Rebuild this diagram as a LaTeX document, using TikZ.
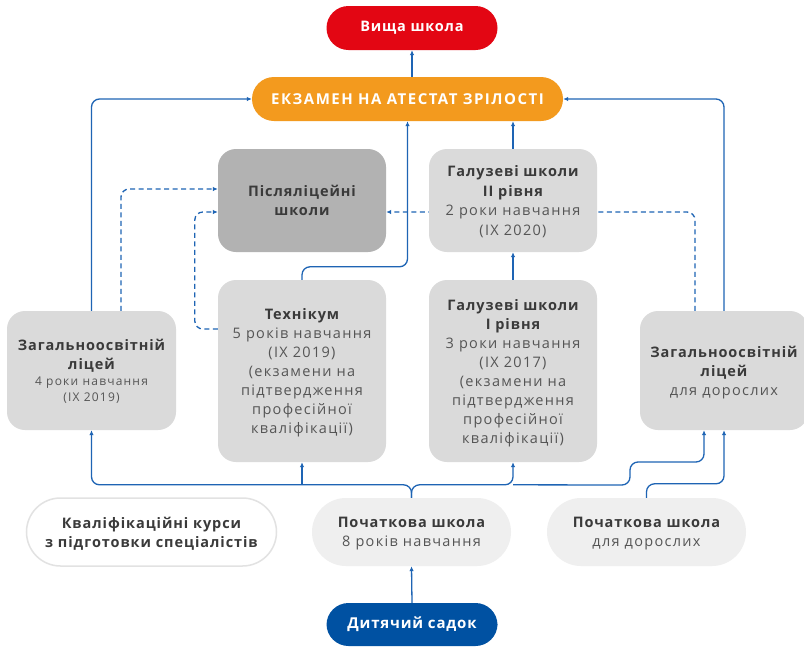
\documentclass[tikz,border=0pt]{standalone}
\usepackage{fontspec}
\setmainfont{Open Sans}[LetterSpace=3]
\newfontfamily\bfam{Open Sans}[LetterSpace=6.5]
\newfontfamily\rfam{Open Sans}[LetterSpace=9]
\newfontfamily\sfam{Open Sans}[LetterSpace=10]
\newfontfamily\wfam{Open Sans}[LetterSpace=5.6]
\newfontfamily\efam{Open Sans}[LetterSpace=10]
\usetikzlibrary{arrows.meta,backgrounds}
\definecolor{cred}{HTML}{E30613}
\definecolor{corange}{HTML}{F39A1E}
\definecolor{cblue}{HTML}{0051A2}
\definecolor{cline}{HTML}{1E64B4}
\definecolor{cbox}{HTML}{DADADA}
\definecolor{cdark}{HTML}{B2B2B2}
\definecolor{cpill}{HTML}{EFEFEF}
\definecolor{cborder}{HTML}{E2E2E2}
\definecolor{ctxt}{HTML}{3A3A3A}
\definecolor{ctxtl}{HTML}{555555}
\newcommand\mybold{\bfam\bfseries\color{ctxt}}
\newcommand\myreg{\rfam\color{ctxtl}}
\newcommand\mysmall{\fontsize{12}{16}\selectfont\sfam\color{ctxtl}}
\begin{document}
\begin{tikzpicture}[x=1pt,y=-1pt,
  box/.style={rectangle, rounded corners=18pt, fill=cbox, inner sep=0pt, align=center, minimum width=168pt, text depth=0pt, font=\fontsize{14.5}{19.5}\selectfont},
  pillw/.style={rectangle, rounded corners=22pt, inner sep=0pt, minimum height=44pt, align=center, text=white, font=\fontsize{14.5}{18}\selectfont\wfam\bfseries},
  pillg/.style={rectangle, rounded corners=34pt, inner sep=0pt, minimum height=68pt, minimum width=199pt, align=center, text depth=0pt, font=\fontsize{14.5}{19}\selectfont},
  conn/.style={draw=cline, line width=1.3pt, -{Latex[length=5pt,width=4.5pt]}, rounded corners=8pt},
  dconn/.style={conn, dash pattern=on 5pt off 3.5pt}]
\useasboundingbox (0,0) rectangle (804,646);

\node[pillw, fill=cred, minimum width=171pt] (vys) at (412,28) {Вища школа};
\node[pillw, fill=corange, minimum width=311pt, font=\fontsize{15}{18}\selectfont\efam\bfseries] (exam) at (407.5,99) {ЕКЗАМЕН НА АТЕСТАТ ЗРІЛОСТІ};

\node[box, fill=cdark, minimum height=103pt] (pisl) at (302,200.5) {\mybold Післяліцейні\\\mybold школи};
\node[box, minimum height=103pt] (gal2) at (513,200.5) {\mybold Галузеві школи\\\mybold II рівня\\\myreg 2 роки навчання\\\myreg (IX 2020)};
\node[box, minimum height=182pt, font=\fontsize{14.5}{19}\selectfont] (tech) at (302,371) {\mybold Технікум\\\myreg 5 років навчання\\\myreg (IX 2019)\\\myreg (екзамени на\\\myreg підтвердження\\\myreg професійної\\\myreg кваліфікації)};
\node[box, minimum height=182pt, font=\fontsize{14.5}{19}\selectfont] (gal1) at (513,371) {\mybold Галузеві школи\\\mybold I рівня\\\myreg 3 роки навчання\\\myreg (IX 2017)\\\myreg (екзамени на\\\myreg підтвердження\\\myreg професійної\\\myreg кваліфікації)};
\node[box, minimum width=169pt, minimum height=119pt, font=\fontsize{14.5}{19}\selectfont] (lyc) at (91.5,370.5) {\mybold Загальноосвітній\\\mybold ліцей\\[-2.5pt]\mysmall 4 роки навчання\\[-3pt]\mysmall (IX 2019)};
\node[box, minimum height=119pt, font=\fontsize{14.5}{19}\selectfont] (lycA) at (724,370.5) {\mybold Загальноосвітній\\\mybold ліцей\\\myreg для дорослих};

\node[pillg, fill=white, draw=cborder, line width=1.5pt, minimum width=250pt] (kval) at (151.5,532) {\mybold Кваліфікаційні курси\\\mybold з підготовки спеціалістів};
\node[pillg, fill=cpill] (poch) at (411.5,532) {\mybold Початкова школа\\\myreg 8 років навчання};
\node[pillg, fill=cpill] (pochA) at (646.5,532) {\mybold Початкова школа\\\myreg для дорослих};
\node[pillw, fill=cblue, minimum width=171pt, minimum height=43pt, font=\fontsize{15}{18}\selectfont\wfam\bfseries] (sadok) at (412,624.5) {Дитячий садок};

\begin{scope}[on background layer]
\fill[white] (0,0) rectangle (804,646);
\path (poch.north) ++(0,-13) coordinate (bus);
\coordinate (s1) at (630,485);
\coordinate (s2) at (630,462);
\draw[conn] (sadok.north) -- (poch.south);
\draw[conn] (poch.north) -- (bus) -| (lyc.south);
\draw[conn] (poch.north) -- (bus) -| (gal1.south);
\draw[conn] (tech.south |- bus) -- (tech.south);
\draw[conn] (gal1.south |- bus) -- (s1) -- (s2) -| ([xshift=-20pt]lycA.south);
\draw[conn] (pochA.north) -- ++(0,-14) -| (lycA.south);
\draw[conn] (lyc.north) |- (exam.west);
\draw[conn] (lycA.north) |- (exam.east);
\draw[conn] (tech.north) -- ++(0,-13) -| (exam.south);
\draw[conn] (gal1.north) -- (gal2.south);
\draw[conn] (gal2.north) -- (gal2.north |- exam.south);
\draw[conn] (vys.south |- exam.north) -- (vys.south);
\draw[dconn] ([xshift=29.5pt]lyc.north) |- ([yshift=11.5pt]pisl.west);
\draw[dconn] ([yshift=42pt]tech.west) -- ++(-23,0) |- ([yshift=-11.5pt]pisl.west);
\draw[dconn] ([xshift=-29pt]lycA.north) |- ([yshift=-11.5pt]pisl.east);
\end{scope}
\end{tikzpicture}
\end{document}
